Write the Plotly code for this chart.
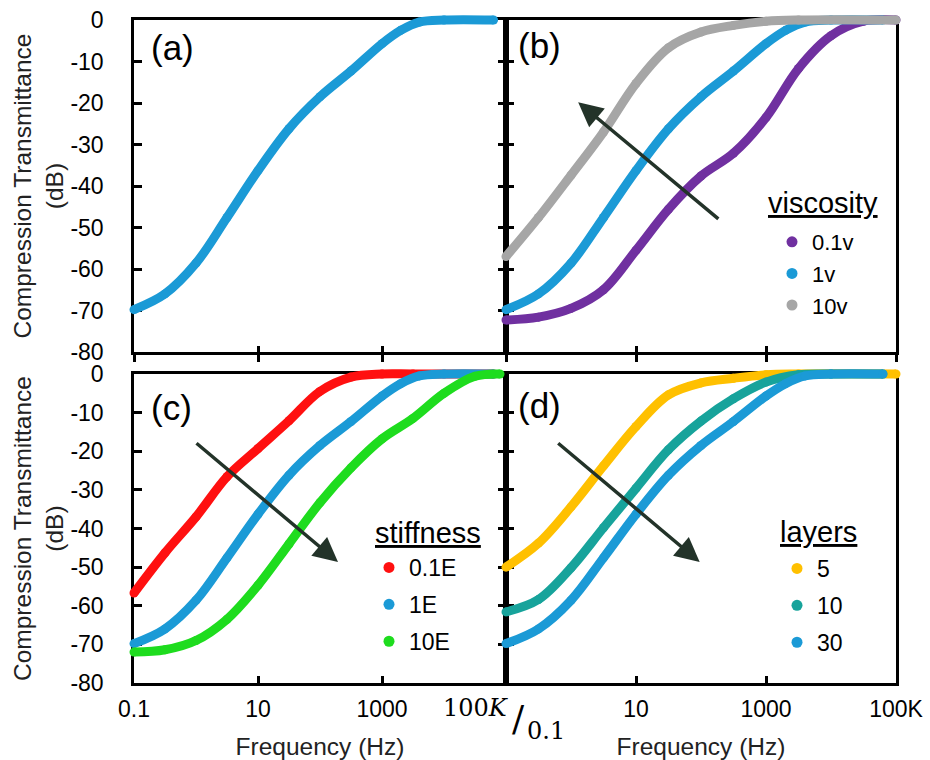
import plotly.graph_objects as go

# ---------------- data ----------------
# frequency grid (Hz), half-decade steps
f_half = [0.1, 0.316, 1, 3.16, 10, 31.6, 100, 316, 1000, 3160, 10000, 31600, 100000]

# reference curve: 1v / 1E / 30 layers (blue)
f_base = [0.1, 0.316, 1, 3.16, 10, 31.6, 100, 316, 1000, 2000, 4000, 10000, 63000]
db_base = [-69.8, -66, -58.6, -47.6, -36.3, -26.2, -18.5, -12.3, -5.7, -2.5, -0.5, 0, 0]

# (b) viscosity
db_visc01 = [-72.3, -71.6, -69.5, -65, -55.5, -45.6, -37.6, -32.1, -23.5, -11.7, -3.8, -0.3, 0]
f_visc10 = [0.1, 0.316, 1, 3.16, 10, 31.6, 100, 316, 1000, 3160, 100000]
db_visc10 = [-57, -47.6, -37.4, -27, -15.3, -6.7, -2.9, -1.3, -0.3, 0, 0]

# (c) stiffness
f_stiff01 = [0.1, 0.316, 1, 3.16, 10, 31.6, 100, 316, 1000, 3160, 63000]
db_stiff01 = [-56.7, -46.3, -37, -26.6, -19.3, -12.1, -4.5, -0.8, 0, 0, 0]
f_stiff10 = [0.1, 0.316, 1, 3.16, 10, 31.6, 100, 316, 1000, 3160, 10000, 31600, 80000]
db_stiff10 = [-72, -71.4, -69, -63.5, -54.7, -44, -33.3, -24.3, -16.8, -11.5, -5, -0.6, 0]

# (d) layers
f_lay5 = [0.1, 0.316, 1, 3.16, 10, 31.6, 100, 316, 1000, 3160, 100000]
db_lay5 = [-50, -43.8, -34.4, -23.8, -13.6, -5.4, -2.3, -1.1, -0.2, 0, 0]
f_lay10 = [0.1, 0.316, 1, 3.16, 10, 31.6, 100, 316, 1000, 3160, 10000, 63000]
db_lay10 = [-61.6, -58.4, -50.2, -39.8, -29.6, -19.6, -12.2, -6.4, -2.1, -0.2, 0, 0]

x_tickvals = [0.1, 10, 1000, 100000]
x_ticktext_c = ["0.1", "10", "1000", ""]
x_ticktext_d = ["", "10", "1000", "100K"]
y_tickvals = [0, -10, -20, -30, -40, -50, -60, -70, -80]
y_ticktext = ["0", "-10", "-20", "-30", "-40", "-50", "-60", "-70", "-80"]

legend_b = ["0.1v", "1v", "10v"]
legend_c = ["0.1E", "1E", "10E"]
legend_d = ["5", "10", "30"]
legend_titles = ["viscosity", "stiffness", "layers"]

BLUE = "#1b9ad6"
PURPLE = "#7030a0"
GRAY = "#a6a6a6"
RED = "#ff1010"
GREEN = "#1edc1e"
YELLOW = "#ffc000"
TEAL = "#17a39b"
ARROW = "#233329"

FONT = "Arial, Liberation Sans, sans-serif"
W, H = 930, 760

# panel boxes in pixels: (left, right, top, bottom)
PANELS = {
    "a": (134, 506, 20, 352),
    "b": (506, 896, 20, 352),
    "c": (134, 506, 374, 683),
    "d": (506, 896, 374, 683),
}
PAD = 10  # drawing subplots are a little larger so thick curves are not clipped

fig = go.Figure()


def curve(f, db, color, xa, ya):
    fig.add_trace(go.Scatter(
        x=f, y=db, mode="lines+markers", xaxis=xa, yaxis=ya,
        line=dict(color=color, width=9, shape="spline", smoothing=1.0),
        marker=dict(color=color, size=9),
        cliponaxis=False, showlegend=False, hoverinfo="skip"))


def legend_entry(name, color, xa, ya, leg):
    fig.add_trace(go.Scatter(
        x=[None], y=[None], mode="markers", xaxis=xa, yaxis=ya, name=name,
        marker=dict(color=color, size=11), legend=leg, legendgroup=leg + name,
        showlegend=True))


# (a)  drawing axes x7/y7
curve(f_base, db_base, BLUE, "x7", "y7")
# (b)  drawing axes x8/y8
curve(f_half, db_visc01, PURPLE, "x8", "y8")
curve(f_base, db_base, BLUE, "x8", "y8")
curve(f_visc10, db_visc10, GRAY, "x8", "y8")
# (c)  drawing axes x9/y9
curve(f_stiff01, db_stiff01, RED, "x9", "y9")
curve(f_base, db_base, BLUE, "x9", "y9")
curve(f_stiff10, db_stiff10, GREEN, "x9", "y9")
# (d)  drawing axes x10/y10
curve(f_lay5, db_lay5, YELLOW, "x10", "y10")
curve(f_lay10, db_lay10, TEAL, "x10", "y10")
curve(f_base, db_base, BLUE, "x10", "y10")

# legends (on the visible axes)
for n, c in zip(legend_b, [PURPLE, BLUE, GRAY]):
    legend_entry(n, c, "x2", "y2", "legend2")
for n, c in zip(legend_c, [RED, BLUE, GREEN]):
    legend_entry(n, c, "x3", "y3", "legend3")
for n, c in zip(legend_d, [YELLOW, TEAL, BLUE]):
    legend_entry(n, c, "x4", "y4", "legend4")

# empty traces so the framing axes exist
for xa, ya in [("x", "y"), ("x5", "y"), ("x6", "y2")]:
    fig.add_trace(go.Scatter(x=[None], y=[None], xaxis=xa, yaxis=ya, showlegend=False,
                             hoverinfo="skip"))


def dom_x(L, R, p=0):
    return [(L - p) / W, (R + p) / W]


def dom_y(T, B, p=0):
    return [1 - (B + p) / H, 1 - (T - p) / H]


tickfont = dict(family=FONT, size=23, color="black")
titlefont = dict(family=FONT, size=24.5, color="#222")


def xax(panel, anchor, ticktext=None, title=None, ticks="inside"):
    L, R, T, B = PANELS[panel]
    d = dict(type="log", range=[-1, 5], domain=dom_x(L, R), anchor=anchor,
             tickvals=x_tickvals, ticks=ticks, ticklen=7, tickwidth=2.5, tickcolor="black",
             showline=True, linewidth=2.5, linecolor="black", mirror=True,
             showgrid=False, zeroline=False, automargin=False, fixedrange=True,
             layer="below traces")
    if ticktext is not None:
        d.update(ticktext=ticktext, showticklabels=True, tickfont=tickfont,
                 ticklabelstandoff=4)
    else:
        d.update(showticklabels=False)
    if title:
        d.update(title=dict(text=title, font=titlefont, standoff=18))
    return d


def yax(panel, anchor, labels, mirror, title=None):
    L, R, T, B = PANELS[panel]
    d = dict(range=[-80, 0], domain=dom_y(T, B), anchor=anchor, tickvals=y_tickvals,
             ticks="inside", ticklen=8, tickwidth=2.5, tickcolor="black",
             showline=True, linewidth=2.5, linecolor="black", mirror=mirror,
             showgrid=False, zeroline=False, automargin=False, fixedrange=True,
             layer="below traces")
    if labels:
        d.update(ticktext=y_ticktext, showticklabels=True, tickfont=tickfont,
                 ticklabelstandoff=23)
    else:
        d.update(showticklabels=False)
    if title:
        d.update(title=dict(text=title, font=titlefont, standoff=0))
    return d


def draw_axes(panel, anchor_x, anchor_y):
    L, R, T, B = PANELS[panel]
    kx = 6.0 / (R - L)
    ky = 80.0 / (B - T)
    xa = dict(type="log", domain=dom_x(L, R, PAD), range=[-1 - PAD * kx, 5 + PAD * kx],
              anchor=anchor_y, visible=False, fixedrange=True)
    ya = dict(domain=dom_y(T, B, PAD), range=[-80 - PAD * ky, PAD * ky],
              anchor=anchor_x, visible=False, fixedrange=True)
    return xa, ya


def overlay_ticks(over, anchor):
    return dict(type="log", range=[-1, 5], overlaying=over, anchor=anchor,
                tickvals=x_tickvals, ticks="inside", ticklen=6, tickwidth=2.5,
                tickcolor="black", showline=False, showticklabels=False,
                showgrid=False, zeroline=False, fixedrange=True)


ytitle = "Compression Transmittance<br>(dB)"
x7, y7 = draw_axes("a", "x7", "y7")
x8, y8 = draw_axes("b", "x8", "y8")
x9, y9 = draw_axes("c", "x9", "y9")
x10, y10 = draw_axes("d", "x10", "y10")

fig.update_layout(
    width=W, height=H, margin=dict(l=0, r=0, t=0, b=0),
    paper_bgcolor="white", plot_bgcolor="rgba(0,0,0,0)",
    font=dict(family=FONT, color="black"),
    xaxis=xax("a", "y", ticks="outside"),
    xaxis2=xax("b", "y2", ticks="outside"),
    xaxis3=xax("c", "y3", ticktext=x_ticktext_c, title="Frequency (Hz)"),
    xaxis4=xax("d", "y4", ticktext=x_ticktext_d, title="Frequency (Hz)"),
    xaxis5=overlay_ticks("x", "y"),
    xaxis6=overlay_ticks("x2", "y2"),
    yaxis=yax("a", "x", True, "ticks", ytitle),
    yaxis2=yax("b", "x2", False, True),
    yaxis3=yax("c", "x3", True, "ticks", ytitle),
    yaxis4=yax("d", "x4", False, True),
    xaxis7=x7, yaxis7=y7, xaxis8=x8, yaxis8=y8,
    xaxis9=x9, yaxis9=y9, xaxis10=x10, yaxis10=y10,
)

leg_common = dict(xanchor="left", yanchor="top", bgcolor="rgba(0,0,0,0)",
                  borderwidth=0, itemsizing="trace", itemwidth=30)
fig.update_layout(
    legend2=dict(x=772 / W, y=1 - 221 / H, tracegroupgap=0,
                 font=dict(family=FONT, size=22, color="black"), **leg_common),
    legend3=dict(x=369 / W, y=1 - 546 / H, tracegroupgap=4,
                 font=dict(family=FONT, size=23, color="black"), **leg_common),
    legend4=dict(x=777 / W, y=1 - 547 / H, tracegroupgap=4,
                 font=dict(family=FONT, size=23, color="black"), **leg_common),
)

# legend titles (underlined)
for txt, cx, cy in zip(legend_titles, [823, 428, 818], [203, 533, 532]):
    fig.add_annotation(text="<u>%s</u>" % txt, x=cx / W, y=1 - cy / H, xref="paper",
                       yref="paper", xanchor="center", yanchor="middle", showarrow=False,
                       font=dict(family=FONT, size=29, color="black"))

# panel labels
for txt, px, py in [("(a)", 149, 47), ("(b)", 516, 45), ("(c)", 149, 407), ("(d)", 516, 405)]:
    fig.add_annotation(text=txt, x=px / W, y=1 - py / H, xref="paper", yref="paper",
                       xanchor="left", yanchor="middle", showarrow=False,
                       font=dict(family=FONT, size=35, color="black"))

# arrows (head at x,y ; tail at ax,ay), log10 frequency units
arrows = [
    ("x2", "y2", 0.11, -19.8, 2.29, -48.2),
    ("x3", "y3", 2.29, -48.7, -0.016, -17.6),
    ("x4", "y4", 1.98, -48.7, -0.22, -17.6),
]
for xr, yr, hx, hy, tx, ty in arrows:
    fig.add_annotation(x=hx, y=hy, ax=tx, ay=ty, xref=xr, yref=yr, axref=xr, ayref=yr,
                       showarrow=True, arrowhead=2, arrowsize=1.4, arrowwidth=3.5,
                       arrowcolor=ARROW, text="")

# stray "100K/0.1" label text under the panel boundary
serif = "DejaVu Serif, Liberation Serif, serif"
for txt, cx, cy, sz in [("100<i>K</i>", 476, 708, 24), ("/", 518, 718, 36), ("0.1", 546, 731, 24)]:
    fig.add_annotation(text=txt, x=cx / W, y=1 - cy / H, xref="paper", yref="paper",
                       xanchor="center", yanchor="middle", showarrow=False,
                       font=dict(family=serif, size=sz, color="black"))

fig.write_html("out.html", config={"displayModeBar": False},
               post_script="document.body.style.margin='0px';")
